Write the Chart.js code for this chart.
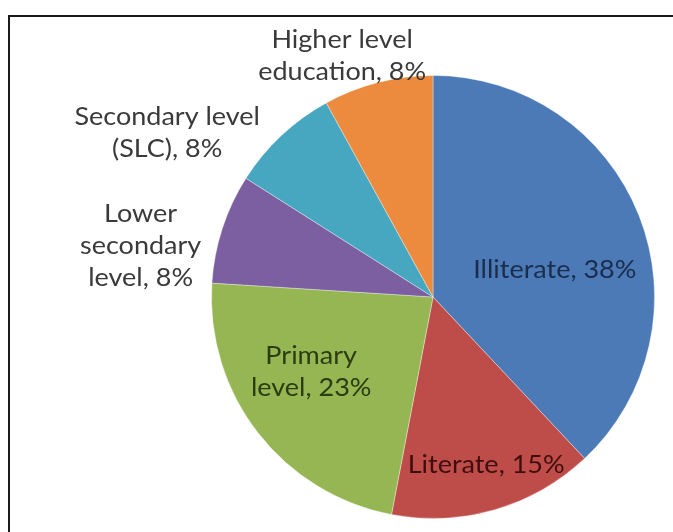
<!DOCTYPE html>
<html>
<head>
<meta charset="utf-8">
<script src="https://cdn.jsdelivr.net/npm/chart.js@4/dist/chart.umd.min.js"></script>
<style>
  html, body { margin: 0; padding: 0; background: #fff; overflow: hidden; }
  canvas { display: block; }
</style>
</head>
<body>
<canvas id="pie" width="673" height="532"></canvas>
<script>
'use strict';

const categories = [
  ['Illiterate'],
  ['Literate'],
  ['Primary', 'level'],
  ['Lower', 'secondary', 'level'],
  ['Secondary level', '(SLC)'],
  ['Higher level', 'education']
];
const shares = [38, 15, 23, 8, 8, 8];

const sliceColors = ['#4b7ab6', '#be4d4a', '#95b653', '#7c5fa0', '#47a6c0', '#ec8a3e'];
const labelColors = ['#1b2d4d', '#3f0d0d', '#2b3c10', '#3a3a3a', '#3a3a3a', '#3a3a3a'];
// label centre relative to pie centre, in radius units
const labelSpots = [
  [0.55, -0.12], [0.24, 0.76], [-0.55, 0.34],
  [-1.32, -0.23], [-1.20, -0.74], [-0.41, -1.09]
];

// the frame's top and left edges (the rest is cropped off in the picture)
const framePlugin = {
  id: 'frame',
  beforeDraw(chart) {
    const { ctx } = chart;
    ctx.save();
    ctx.strokeStyle = '#1a1a1a';
    ctx.lineWidth = 2;
    ctx.beginPath();
    ctx.moveTo(9, chart.height);
    ctx.lineTo(9, 16);
    ctx.lineTo(chart.width, 16);
    ctx.stroke();
    ctx.restore();
  }
};

const labelPlugin = {
  id: 'sliceLabels',
  afterDatasetsDraw(chart) {
    const { ctx } = chart;
    const arcs = chart.getDatasetMeta(0).data;
    ctx.save();
    ctx.font = '25px Lato, "Open Sans", sans-serif';
    ctx.textAlign = 'center';
    ctx.textBaseline = 'middle';
    const lineH = 32;
    arcs.forEach((arc, i) => {
      const cx = arc.x + labelSpots[i][0] * arc.outerRadius;
      const cy = arc.y + labelSpots[i][1] * arc.outerRadius;
      const lines = categories[i].slice();
      lines[lines.length - 1] += ', ' + shares[i] + '%';
      const top = cy - (lines.length - 1) * lineH / 2;
      ctx.fillStyle = labelColors[i];
      lines.forEach((t, k) => {
        ctx.save();
        ctx.translate(cx, top + k * lineH);
        ctx.scale(1.08, 1);
        ctx.fillText(t, 0, 0);
        ctx.restore();
      });
    });
    ctx.restore();
  }
};

new Chart(document.getElementById('pie'), {
  type: 'pie',
  data: {
    labels: categories.map(c => c.join(' ')),
    datasets: [{
      data: shares,
      backgroundColor: sliceColors,
      borderColor: 'rgba(255,255,255,0.35)',
      borderWidth: 1
    }]
  },
  options: {
    responsive: false,
    animation: false,
    layout: { padding: { left: 211, right: 18, top: 75, bottom: 13 } },
    plugins: { legend: { display: false }, tooltip: { enabled: false } }
  },
  plugins: [framePlugin, labelPlugin]
});
</script>
</body>
</html>
